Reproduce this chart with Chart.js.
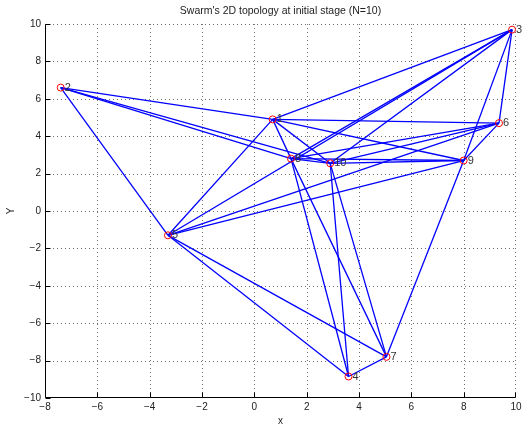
<!DOCTYPE html>
<html>
<head>
<meta charset="utf-8">
<script src="https://cdn.jsdelivr.net/npm/chart.js@4/dist/chart.umd.min.js"></script>
<style>
  html, body { margin: 0; padding: 0; background: #fff; }
  #wrap { width: 528px; height: 427px; }
</style>
</head>
<body>
<div id="wrap"><canvas id="c" width="528" height="427"></canvas></div>
<script>
// Node positions of the swarm (node k is at index k-1)
const nodeLabels = ['1', '2', '3', '4', '5', '6', '7', '8', '9', '10'];
const nodeX = [0.7, -7.4, 9.85, 3.6, -3.3, 9.35, 5.05, 1.4, 8.0, 2.9];
const nodeY = [4.9, 6.6, 9.7, -8.85, -1.3, 4.7, -7.8, 2.8, 2.7, 2.55];

// Communication links between nodes (1-based node numbers)
const links = [
  [2, 1], [2, 8], [2, 10], [2, 5],
  [3, 1], [3, 8], [3, 10], [3, 5], [3, 6], [3, 9],
  [1, 6], [1, 9], [1, 8], [1, 10], [1, 5],
  [5, 6], [5, 9], [5, 4], [5, 7],
  [4, 7], [4, 8], [4, 10],
  [7, 8], [7, 10], [7, 9],
  [6, 9], [6, 8], [6, 10],
  [9, 8], [9, 10],
  [8, 10]
];

// Axis ticks
const xTicks = [-8, -6, -4, -2, 0, 2, 4, 6, 8, 10];
const yTicks = [-10, -8, -6, -4, -2, 0, 2, 4, 6, 8, 10];

const titleText = "Swarm's 2D topology at initial stage (N=10)";
const xTitle = 'x';
const yTitle = 'Y';

const FONT = '"Liberation Sans", Arial, Helvetica, sans-serif';

const nodePoints = nodeX.map((x, i) => ({ x: x, y: nodeY[i] }));

const datasets = [{
  label: 'nodes',
  data: nodePoints,
  showLine: false,
  pointStyle: 'circle',
  pointRadius: 3.5,
  pointBorderWidth: 1,
  pointBorderColor: '#ff0000',
  pointBackgroundColor: 'rgba(0,0,0,0)',
  order: 0
}];

links.forEach(([a, b]) => {
  datasets.push({
    label: 'link ' + a + '-' + b,
    data: [nodePoints[a - 1], nodePoints[b - 1]],
    showLine: true,
    borderColor: '#0000ff',
    borderWidth: 1.3,
    pointRadius: 0,
    fill: false,
    order: 1
  });
});

// Frame, dotted grid, inward ticks, titles and node numbers
const decor = {
  id: 'decor',
  beforeDatasetsDraw(chart) {
    const ctx = chart.ctx;
    const xs = chart.scales.x, ys = chart.scales.y;
    const a = chart.chartArea;
    ctx.save();
    ctx.strokeStyle = '#6f6f6f';
    ctx.lineWidth = 1;
    ctx.setLineDash([1, 3]);
    xTicks.forEach(v => {
      let p = Math.round(xs.getPixelForValue(v)) + 0.5;
      if (p <= a.left + 1) return;
      if (p >= a.right) p = Math.round(a.right) - 0.5;
      ctx.beginPath(); ctx.moveTo(p, a.top); ctx.lineTo(p, a.bottom); ctx.stroke();
    });
    yTicks.forEach(v => {
      let p = Math.round(ys.getPixelForValue(v)) + 0.5;
      if (p >= a.bottom - 1) return;
      ctx.beginPath(); ctx.moveTo(a.left, p); ctx.lineTo(a.right, p); ctx.stroke();
    });
    ctx.restore();
  },
  afterDatasetsDraw(chart) {
    const ctx = chart.ctx;
    const xs = chart.scales.x, ys = chart.scales.y;
    const a = chart.chartArea;
    ctx.save();
    // node numbers
    ctx.fillStyle = '#333333';
    ctx.font = '11px ' + FONT;
    ctx.textAlign = 'left';
    ctx.textBaseline = 'middle';
    nodeLabels.forEach((t, i) => {
      const px = xs.getPixelForValue(nodeX[i]) + 4;
      const py = ys.getPixelForValue(nodeY[i]);
      ctx.fillText(t, px, py);
    });
    // axis lines
    ctx.strokeStyle = '#000';
    ctx.lineWidth = 1;
    const L = Math.round(a.left) + 0.5, R = Math.round(a.right) - 0.5;
    const T = Math.round(a.top) + 0.5, B = Math.round(a.bottom) - 0.5;
    ctx.beginPath();
    ctx.moveTo(L, T); ctx.lineTo(L, B); ctx.lineTo(R, B);
    ctx.stroke();
    // inward tick marks
    const tl = 5;
    xTicks.forEach(v => {
      const p = Math.min(Math.round(xs.getPixelForValue(v)) + 0.5, R);
      ctx.beginPath(); ctx.moveTo(p, B); ctx.lineTo(p, B - tl); ctx.stroke();
    });
    yTicks.forEach(v => {
      const p = Math.round(ys.getPixelForValue(v)) + 0.5;
      ctx.beginPath(); ctx.moveTo(L, p); ctx.lineTo(L + tl, p); ctx.stroke();
    });
    // titles
    ctx.fillStyle = '#222';
    ctx.font = '10.5px ' + FONT;
    ctx.textAlign = 'center';
    ctx.textBaseline = 'middle';
    ctx.fillText(titleText, (a.left + a.right) / 2, 11);
    ctx.font = '10px ' + FONT;
    ctx.fillText(xTitle, (a.left + a.right) / 2, 421);
    ctx.translate(11, (a.top + a.bottom) / 2);
    ctx.rotate(-Math.PI / 2);
    ctx.fillText(yTitle, 0, 0);
    ctx.restore();
  }
};

new Chart(document.getElementById('c'), {
  type: 'scatter',
  data: { datasets: datasets },
  options: {
    responsive: false,
    animation: false,
    layout: { padding: { top: 24, right: 12, left: 0, bottom: 0 } },
    plugins: { legend: { display: false }, tooltip: { enabled: false }, title: { display: false } },
    scales: {
      x: {
        type: 'linear', min: -8, max: 10,
        afterBuildTicks: s => { s.ticks = xTicks.map(v => ({ value: v })); },
        afterFit: s => { s.height = 29; },
        grid: { display: false, drawTicks: false },
        border: { display: false },
        ticks: {
          padding: 3, color: '#222', maxRotation: 0, autoSkip: false,
          font: { family: FONT, size: 10 },
          callback: v => (v < 0 ? '\u2212' + Math.abs(v) : String(v))
        }
      },
      y: {
        type: 'linear', min: -10, max: 10,
        afterBuildTicks: s => { s.ticks = yTicks.map(v => ({ value: v })); },
        afterFit: s => { s.width = 45; },
        grid: { display: false, drawTicks: false },
        border: { display: false },
        ticks: {
          padding: 4, color: '#222', autoSkip: false,
          font: { family: FONT, size: 10 },
          callback: v => (v < 0 ? '\u2212' + Math.abs(v) : String(v))
        }
      }
    }
  },
  plugins: [decor]
});
</script>
</body>
</html>
